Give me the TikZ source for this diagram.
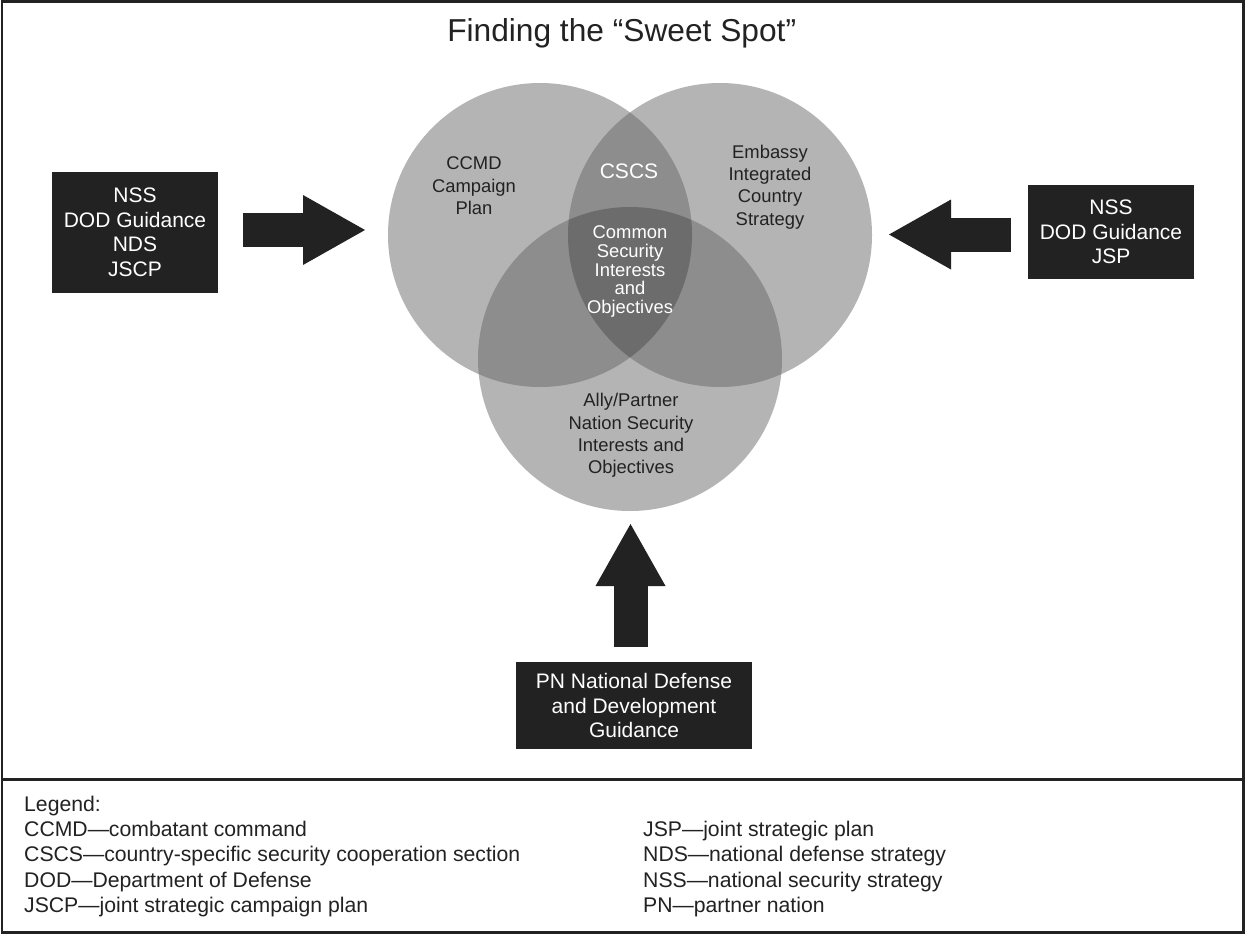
\documentclass[tikz,border=0pt]{standalone}
\usepackage{fontspec}
\setmainfont{Liberation Sans}
\usetikzlibrary{arrows.meta}
\definecolor{ink}{HTML}{222222}
\definecolor{gA}{HTML}{B4B4B4}
\definecolor{gB}{HTML}{8D8D8D}
\definecolor{gC}{HTML}{6C6C6C}
\begin{document}
\begin{tikzpicture}[x=1pt,y=-1pt,
  blackbox/.style={fill=ink, text=white, inner sep=0pt, align=center,
    font=\fontsize{21}{24.5}\selectfont},
  fatarrow/.style={draw=ink, line width=34pt,
    -{Triangle[length=62pt,width=70pt,line width=0pt]}},
  circtext/.style={text=ink, align=center, inner sep=0pt,
    font=\fontsize{18.4}{22.4}\selectfont},
  legtext/.style={anchor=base west, inner sep=0pt, text=ink,
    font=\fontsize{21.2}{25}\selectfont}]
\useasboundingbox (0,0) rectangle (1247,934);
\fill[white] (0,0) rectangle (1247,934);

% circles
\coordinate (cL) at (540,235);
\coordinate (cR) at (720,235);
\coordinate (cB) at (630,359);
\fill[gA] (cL) circle[radius=152pt];
\fill[gA] (cR) circle[radius=152pt];
\fill[gA] (cB) circle[radius=152pt];
\begin{scope}
  \clip (cL) circle[radius=152pt];
  \fill[gB] (cR) circle[radius=152pt];
  \fill[gB] (cB) circle[radius=152pt];
\end{scope}
\begin{scope}
  \clip (cR) circle[radius=152pt];
  \fill[gB] (cB) circle[radius=152pt];
\end{scope}
\begin{scope}
  \clip (cL) circle[radius=152pt];
  \clip (cR) circle[radius=152pt];
  \fill[gC] (cB) circle[radius=152pt];
\end{scope}

% title
\node[anchor=base, inner sep=0pt, text=ink, font=\fontsize{31.7}{36}\selectfont]
  (title) at (621.7,42) {Finding the “Sweet Spot”};

% circle texts
\node[circtext] (ccmd) at (474,186) {CCMD\\Campaign\\Plan};
\node[circtext] (emb) at (770,187) {Embassy\\Integrated\\Country\\Strategy};
\node[text=white, inner sep=0pt, font=\fontsize{21}{24}\selectfont] (cscs) at (629,171) {CSCS};
\node[circtext, text=white, font=\fontsize{18.4}{18.8}\selectfont] (common) at (630,271.5)
  {Common\\Security\\Interests\\and\\Objectives};
\node[circtext] (ally) at (631,435.5) {Ally/Partner\\Nation Security\\Interests and\\Objectives};

% boxes
\node[blackbox, minimum width=166pt, minimum height=121pt] (lbox) at (135,232.5)
  {NSS\\DOD Guidance\\NDS\\JSCP};
\node[blackbox, minimum width=166pt, minimum height=94pt] (rbox) at (1111,232)
  {NSS\\DOD Guidance\\JSP};
\node[blackbox, minimum width=236pt, minimum height=87pt] (bbox) at (634,705.5)
  {PN National Defense\\and Development\\Guidance};

% arrows
\coordinate (aLs) at (243,230);
\coordinate (aLe) at (365,230);
\coordinate (aRs) at (1011,234.5);
\coordinate (aRe) at (889,234.5);
\coordinate (aBs) at (630.5,647);
\coordinate (aBe) at (630.5,524);
\draw[fatarrow] (aLs) -- (aLe);
\draw[fatarrow] (aRs) -- (aRe);
\draw[fatarrow] (aBs) -- (aBe);

% frame
\draw[ink, line width=2.5pt] (2,1.5) rectangle (1243.5,932.3);
\draw[ink, line width=3pt] (2,779) -- (1243.5,779);

% legend
\node[legtext] (leg) at (24,811) {Legend:};
\node[legtext] (l1) at (24,836) {CCMD---combatant command};
\node[legtext] (l2) at (24,861.5) {CSCS---country-specific security cooperation section};
\node[legtext] (l3) at (24,887) {DOD---Department of Defense};
\node[legtext] (l4) at (24,912.5) {JSCP---joint strategic campaign plan};
\node[legtext] (r1) at (643,836) {JSP---joint strategic plan};
\node[legtext] (r2) at (643,861.5) {NDS---national defense strategy};
\node[legtext] (r3) at (643,887) {NSS---national security strategy};
\node[legtext] (r4) at (643,912.5) {PN---partner nation};
\end{tikzpicture}
\end{document}
